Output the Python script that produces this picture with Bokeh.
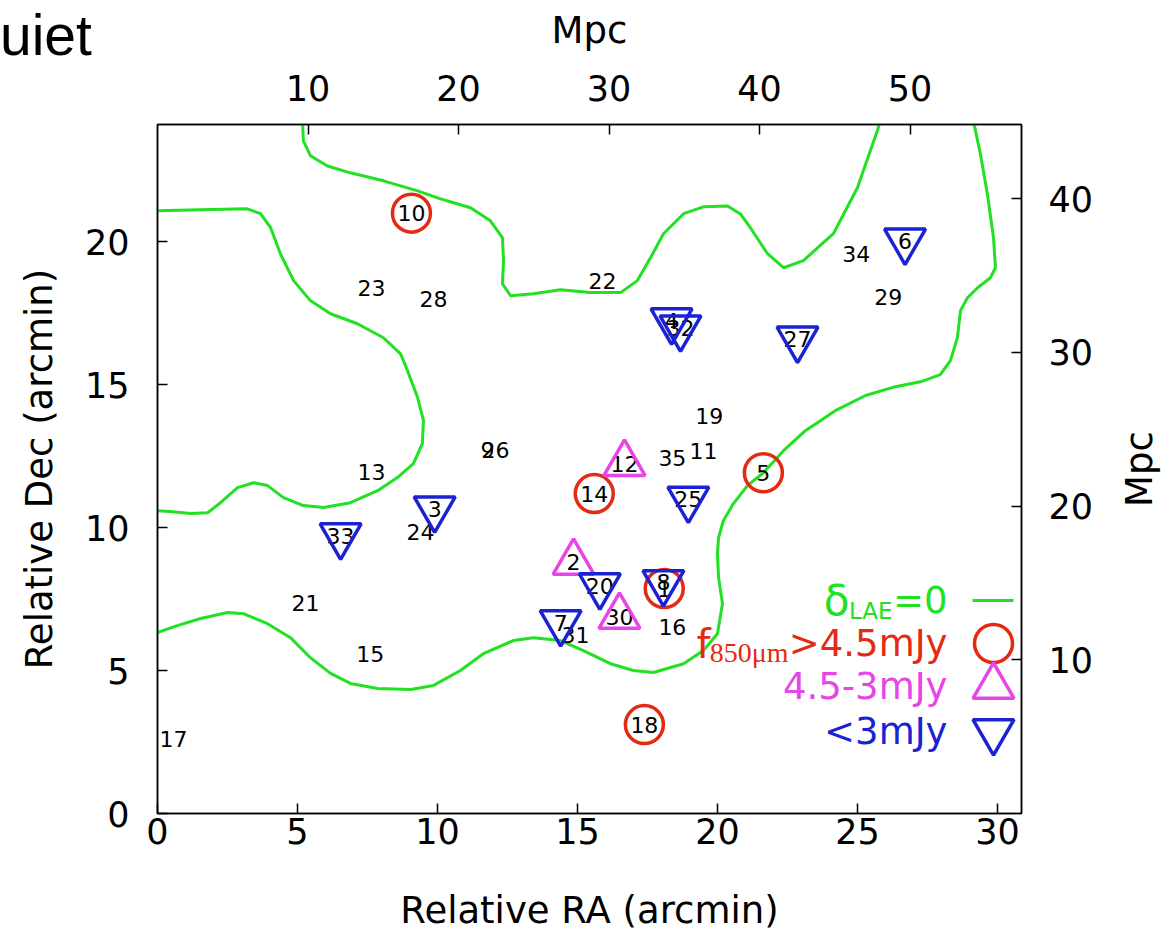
import math
from bokeh.plotting import figure
from bokeh.layouts import column
from bokeh.models import Range1d, LinearAxis, FixedTicker, Label, Div
from bokeh.core.properties import value
from bokeh.embed import file_html
from bokeh.resources import INLINE

# ---------------- data (arcmin) ----------------
MPC_PER_ARCMIN = 1.86
RA_MAX = 30.86
DEC_MAX = 24.1

# f850 > 4.5 mJy (circles)
bright_id = ["10", "5", "14", "1", "18"]
bright_ra = [9.07, 21.64, 15.60, 18.10, 17.39]
bright_dec = [21.00, 11.92, 11.19, 7.87, 3.11]

# 4.5-3 mJy (up triangles)
mid_id = ["12", "2", "30"]
mid_ra = [16.68, 14.86, 16.50]
mid_dec = [12.24, 8.78, 6.89]

# < 3 mJy (down triangles)
faint_id = ["6", "4", "32", "27", "25", "3", "33", "20", "8", "7"]
faint_ra = [26.70, 18.36, 18.68, 22.86, 18.96, 9.90, 6.54, 15.80, 18.07, 14.40]
faint_dec = [20.03, 17.24, 16.99, 16.60, 11.00, 10.66, 9.72, 7.97, 8.08, 6.68]

# label only
other_id = ["23", "28", "22", "34", "29", "19", "35", "11", "26", "9",
            "13", "24", "21", "15", "17", "31", "16"]
other_ra = [7.64, 9.86, 15.89, 24.96, 26.10, 19.71, 18.39, 19.50, 12.07, 11.79,
            7.64, 9.39, 5.29, 7.60, 0.57, 14.93, 18.39]
other_dec = [18.39, 18.00, 18.64, 19.58, 18.08, 13.92, 12.45, 12.69, 12.73, 12.70,
             11.96, 9.83, 7.38, 5.59, 2.62, 6.26, 6.54]

# delta_LAE = 0 contours
cA_ra = [5.18, 5.21, 5.46, 6.07, 6.89, 8.07, 9.29, 10.11, 10.46, 11.18, 11.89, 12.32,
         12.36, 12.32, 12.61, 13.43, 14.39, 15.46, 16.54, 17.14, 17.61, 18.07, 18.79,
         19.50, 20.36, 20.82, 21.18, 21.79, 22.36, 23.07, 24.14, 25.00, 25.71, 25.82]
cA_dec = [24.23, 23.53, 23.01, 22.65, 22.41, 22.13, 21.78, 21.50, 21.40, 21.19, 20.73, 20.14,
          19.34, 18.53, 18.11, 18.18, 18.32, 18.22, 18.22, 18.64, 19.44, 20.28, 20.98,
          21.22, 21.25, 20.97, 20.48, 19.58, 19.09, 19.34, 20.28, 21.89, 23.88, 24.23]

cB_ra = [29.14, 29.39, 29.64, 29.86, 29.93, 29.75, 29.29, 28.93, 28.68, 28.57, 28.32,
         27.96, 27.25, 26.36, 25.29, 24.21, 23.14, 22.36, 21.64, 21.07, 20.57, 20.21,
         20.04, 20.00, 20.04, 20.18, 20.00, 19.50, 18.79, 17.71, 17.00, 16.18, 15.21,
         14.39, 13.43, 12.71, 11.64, 10.82, 9.86, 9.04, 7.86, 6.89, 6.18, 5.46, 4.75,
         3.93, 3.07, 2.50, 1.54, 0.71, 0.00, -0.25]
cB_dec = [24.23, 23.08, 21.68, 20.14, 19.09, 18.74, 18.39, 18.04, 17.59, 16.64, 15.84,
          15.35, 15.10, 14.93, 14.62, 14.09, 13.39, 12.69, 11.92, 11.47, 10.84, 10.24,
          9.65, 9.09, 8.25, 7.34, 6.29, 5.70, 5.24, 4.93, 5.00, 5.24, 5.70,
          6.05, 6.15, 6.05, 5.59, 5.00, 4.48, 4.34, 4.37, 4.55, 4.90, 5.45, 6.15,
          6.64, 6.99, 7.03, 6.82, 6.57, 6.33, 6.26]

cC_ra = [-0.25, 0.00, 1.54, 3.21, 3.68, 4.04, 4.39, 4.86, 5.46, 6.18, 7.14, 8.07, 8.68,
         8.93, 9.29, 9.50, 9.46, 9.14, 8.57, 7.86, 6.89, 5.93, 5.21, 4.50, 3.93, 3.43,
         2.86, 2.25, 1.79, 1.18, 0.46, 0.00, -0.25]
cC_dec = [21.08, 21.08, 21.12, 21.15, 20.98, 20.49, 19.58, 18.64, 17.94, 17.48, 17.13,
          16.64, 16.08, 15.49, 14.55, 13.74, 12.94, 12.24, 11.75, 11.29, 10.87, 10.70,
          10.77, 11.05, 11.47, 11.57, 11.40, 10.87, 10.52, 10.49, 10.56, 10.59, 10.59]

x_ticks = [0, 5, 10, 15, 20, 25, 30]
y_ticks = [0, 5, 10, 15, 20]
mpc_x_ticks = [10, 20, 30, 40, 50]
mpc_y_ticks = [10, 20, 30, 40]

# ---------------- style ----------------
FONT = "DejaVu Sans"
GREEN = "#22e022"
RED = "#e42a12"
MAGENTA = "#e646e6"
BLUE = "#1a22d4"
FW, FH = 864, 689

p = figure(frame_width=FW, frame_height=FH,
           x_range=Range1d(0, RA_MAX), y_range=Range1d(0, DEC_MAX),
           output_backend="svg", toolbar_location=None,
           min_border_left=157, min_border_right=140,
           min_border_top=124, min_border_bottom=120,
           background_fill_color="white", border_fill_color="white")
p.grid.visible = False
p.outline_line_color = "black"
p.outline_line_width = 1.5

bottom_ax = p.below[0]
left_ax = p.left[0]

p.extra_x_ranges = {"mpc_x": Range1d(0, RA_MAX * MPC_PER_ARCMIN),
                    "leg_x": Range1d(0, FW)}
p.extra_y_ranges = {"mpc_y": Range1d(0, DEC_MAX * MPC_PER_ARCMIN),
                    "leg_y": Range1d(0, FH)}

top_ax = LinearAxis(x_range_name="mpc_x", axis_label="Mpc")
right_ax = LinearAxis(y_range_name="mpc_y")
p.add_layout(top_ax, "above")
p.add_layout(right_ax, "right")


def style_axis(ax, ticks, tick_standoff, label_standoff):
    ax.ticker = FixedTicker(ticks=ticks)
    ax.major_tick_in = 10
    ax.major_tick_out = 0
    ax.minor_tick_line_color = None
    ax.axis_line_color = "black"
    ax.axis_line_width = 1.5
    ax.major_tick_line_color = "black"
    ax.major_tick_line_width = 1.5
    ax.major_label_text_font = FONT
    ax.major_label_text_font_size = "35px"
    ax.major_label_text_color = "black"
    ax.axis_label_text_font = FONT
    ax.axis_label_text_font_size = "37px"
    ax.axis_label_text_font_style = "normal"
    ax.axis_label_text_color = "black"
    ax.major_label_standoff = tick_standoff
    ax.axis_label_standoff = label_standoff


left_ax.axis_label = "Relative Dec (arcmin)"
style_axis(bottom_ax, x_ticks, 4, 0)
style_axis(left_ax, y_ticks, 28, 21)
style_axis(top_ax, mpc_x_ticks, 24, 20)
style_axis(right_ax, mpc_y_ticks, 27, 0)

# axis titles for the bottom and right sides, placed in their side panels
p.add_layout(Label(x=FW / 2, y=-21, x_units="screen", y_units="screen",
                   text="Relative RA (arcmin)", text_font=FONT, text_font_size="37px",
                   text_color="black", text_align="center", text_baseline="alphabetic"),
             "below")
p.add_layout(Label(x=43, y=FH / 2, x_units="screen", y_units="screen",
                   text="Mpc", angle=math.pi / 2, text_font=FONT, text_font_size="37px",
                   text_color="black", text_align="center", text_baseline="middle"),
             "right")

# contours
for cra, cdec in [(cA_ra, cA_dec), (cB_ra, cB_dec), (cC_ra, cC_dec)]:
    p.line(cra, cdec, line_color=GREEN, line_width=3)

# labels
LBL = dict(text_font=value(FONT), text_font_size=value("22px"), text_color="black",
           text_align="center", text_baseline="middle")
p.text(x=other_ra, y=other_dec, text=other_id, **LBL)
p.text(x=bright_ra, y=bright_dec, text=bright_id, **LBL)
p.text(x=mid_ra, y=mid_dec, text=mid_id, **LBL)
p.text(x=faint_ra, y=faint_dec, text=faint_id, **LBL)

# markers
p.scatter(bright_ra, bright_dec, marker="circle", size=38, fill_color=None,
          line_color=RED, line_width=3.5)
p.scatter(mid_ra, mid_dec, marker="triangle", size=41, fill_color=None,
          line_color=MAGENTA, line_width=3.5)
p.scatter(faint_ra, faint_dec, marker="inverted_triangle", size=41, fill_color=None,
          line_color=BLUE, line_width=3.5)

# ---------------- custom legend (frame pixel layout) ----------------
LEG_TEXT_RIGHT = 790
LEG_SYM_X = 836
LEG_ROWS = [213, 170, 127, 82]
p.line([815, 856], [LEG_ROWS[0], LEG_ROWS[0]], x_range_name="leg_x", y_range_name="leg_y",
       line_color=GREEN, line_width=3)
p.scatter([LEG_SYM_X], [LEG_ROWS[1]], x_range_name="leg_x", y_range_name="leg_y",
          marker="circle", size=38, fill_color=None, line_color=RED, line_width=3.5)
p.scatter([LEG_SYM_X], [LEG_ROWS[2]], x_range_name="leg_x", y_range_name="leg_y",
          marker="triangle", size=41, fill_color=None, line_color=MAGENTA, line_width=3.5)
p.scatter([LEG_SYM_X], [LEG_ROWS[3]], x_range_name="leg_x", y_range_name="leg_y",
          marker="inverted_triangle", size=41, fill_color=None, line_color=BLUE, line_width=3.5)


def leg_label(x, y, text, color, size="37px", font=FONT):
    p.add_layout(Label(x=x, y=y, x_units="screen", y_units="screen", text=text,
                       text_font=font, text_font_size=size, text_color=color,
                       text_align="right", text_baseline="middle"))


leg_label(LEG_TEXT_RIGHT, LEG_ROWS[0], "=0", GREEN)
leg_label(LEG_TEXT_RIGHT - 55, LEG_ROWS[0] - 10, "LAE", GREEN, size="23px")
leg_label(LEG_TEXT_RIGHT - 98, LEG_ROWS[0], "δ", GREEN, size="42px")

leg_label(LEG_TEXT_RIGHT, LEG_ROWS[1], ">4.5mJy", RED)
leg_label(LEG_TEXT_RIGHT - 159, LEG_ROWS[1] - 9, "850μm", RED, size="28px",
          font="Liberation Serif")
leg_label(LEG_TEXT_RIGHT - 237, LEG_ROWS[1], "f", RED, size="40px")

leg_label(LEG_TEXT_RIGHT, LEG_ROWS[2], "4.5-3mJy", MAGENTA)
leg_label(LEG_TEXT_RIGHT, LEG_ROWS[3], "<3mJy", BLUE)

# slide title fragment at the top-left corner, overlaid on the figure
title_frag = Div(text="uiet", margin=0,
                 styles={"position": "absolute", "left": "0px", "top": "2px",
                         "z-index": "5", "font-family": "Liberation Sans",
                         "font-size": "57px", "line-height": "normal",
                         "color": "black", "white-space": "nowrap"})

page = column(p, title_frag)
open("out.html", "w").write(file_html(page, INLINE))
